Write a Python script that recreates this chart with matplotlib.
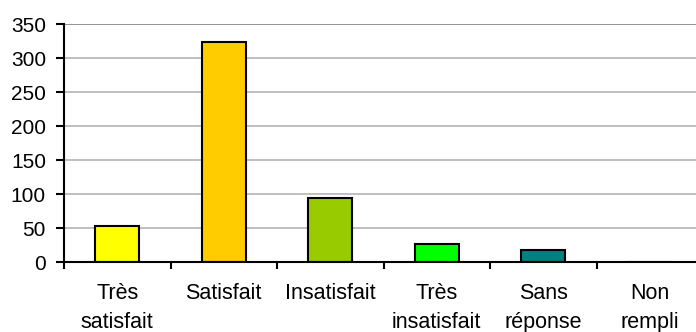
import matplotlib
matplotlib.use("Agg")
import matplotlib.pyplot as plt

categories = ["Très\nsatisfait", "Satisfait", "Insatisfait", "Très\ninsatisfait", "Sans\nréponse", "Non\nrempli"]
values = [53, 323, 94, 27, 18, 0]
colors = ["#FFFF00", "#FFCC00", "#99CC00", "#00FF00", "#008080", "#CCCCCC"]
yticks = [0, 50, 100, 150, 200, 250, 300, 350]

plt.rcParams['font.family'] = ['Liberation Sans', 'DejaVu Sans']

fig = plt.figure(figsize=(6.96, 3.32), dpi=100)
ax = fig.add_axes([64/696, 70/332, 639/696, 238/332])

x = list(range(len(categories)))
ax.bar(x, values, width=0.41, color=colors, edgecolor="black", linewidth=1.5, zorder=3)

ax.set_xlim(-0.5, len(categories) - 0.5)
ax.set_ylim(0, 350)
ax.set_yticks(yticks)
ax.set_yticklabels([str(v) for v in yticks], fontsize=15)
for v in yticks[1:]:
    ax.axhline(v, color="#808080" if v == 350 else "#B4B4B4", linewidth=1.2, zorder=1)

ax.set_xticks([i + 0.5 for i in range(-1, len(categories))], minor=False)
ax.set_xticklabels([""] * (len(categories) + 1))
ax.tick_params(axis="x", which="major", direction="out", length=5, width=1.5)
ax.set_xticks(x, minor=True)
ax.set_xticklabels(categories, minor=True, fontsize=15.5, linespacing=1.53)
ax.tick_params(axis="x", which="minor", length=0, pad=15)
ax.tick_params(axis="y", direction="out", length=6, width=1.5, pad=7)

for s in ["top", "right"]:
    ax.spines[s].set_visible(False)
for s in ["left", "bottom"]:
    ax.spines[s].set_linewidth(1.5)
    ax.spines[s].set_zorder(4)

fig.savefig("out.png", dpi=100)
